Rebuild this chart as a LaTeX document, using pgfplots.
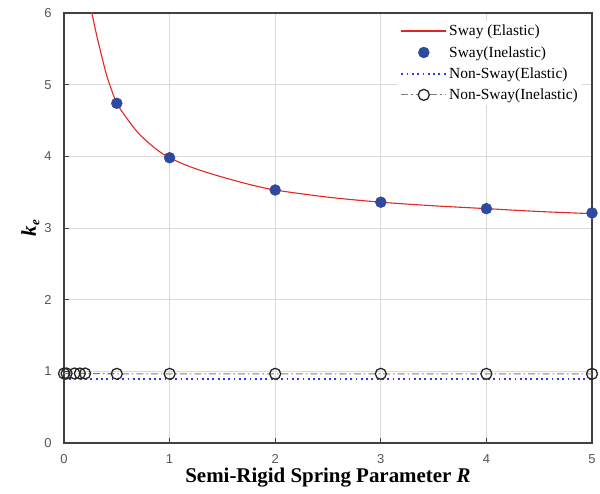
\documentclass[border=0pt]{standalone}
\usepackage{fontspec}
\setmainfont{Liberation Serif}
\setsansfont{Liberation Sans}
\usepackage{pgfplots}
\pgfplotsset{compat=1.18}
\definecolor{swayred}{HTML}{E42525}
\definecolor{swayblue}{HTML}{2E4A9E}
\definecolor{nsblue}{HTML}{2A3CE8}
\definecolor{nsgray}{HTML}{808070}
\definecolor{ticktxt}{HTML}{555555}
\definecolor{axcol}{HTML}{404040}
\begin{document}
\begin{tikzpicture}
\begin{axis}[
  scale only axis,
  width=528bp, height=430bp,
  xmin=0, xmax=5, ymin=0, ymax=6,
  xtick={0,1,2,3,4,5}, ytick={0,1,2,3,4,5,6},
  grid=major,
  major grid style={draw=black!15, line width=0.9pt},
  axis line style={draw=axcol, line width=1.3pt},
  tick style={draw=axcol, line width=0.8pt},
  major tick length=5bp,
  tick align=inside,
  xtick pos=bottom, ytick pos=left,
  /pgf/number format/assume math mode=true,
  tick label style={font=\sffamily\fontsize{13}{14}\selectfont, text=ticktxt},
  xticklabel style={yshift=-8bp},
  yticklabel style={xshift=-9bp},
  xlabel={\textbf{Semi-Rigid Spring Parameter \textit{R}}},
  xlabel style={font=\fontsize{21}{24}\selectfont, yshift=3bp},
  ylabel={\textbf{\textit{k}}\raisebox{-0.35ex}{\fontsize{13}{14}\selectfont\textbf{\textit{e}}}},
  ylabel style={font=\fontsize{21}{24}\selectfont, yshift=-2bp},
  legend style={at={(1,1)}, anchor=north east, xshift=-10bp, yshift=-8bp,
    draw=none, fill=white, font=\fontsize{15.5}{17}\selectfont,
    row sep=5bp, inner sep=2bp, cells={anchor=west}},
  clip=true,
]
\addlegendimage{legend image code/.code={\draw[draw=swayred, line width=1.7pt] (0bp,0bp) -- (45bp,0bp);}}
\addlegendentry{Sway (Elastic)}
\addlegendimage{legend image code/.code={\fill[swayblue] (22.5bp,0bp) circle[radius=5.5bp];}}
\addlegendentry{Sway(Inelastic)}
\addlegendimage{legend image code/.code={\draw[draw=nsblue, line width=1.7pt, dash pattern=on 1.8bp off 3.5bp] (0bp,0bp) -- (45bp,0bp);}}
\addlegendentry{Non-Sway(Elastic)}
\addlegendimage{legend image code/.code={\draw[draw=nsgray, line width=1.1pt, dash pattern=on 7bp off 3bp on 1.5bp off 3bp] (0bp,0bp) -- (45bp,0bp);
  \draw[draw=black!85, fill=white, line width=1.3pt] (22.5bp,0bp) circle[radius=5.5bp];}}
\addlegendentry{Non-Sway(Inelastic)}
\addplot[forget plot, draw=swayred, line width=1.1pt, smooth, tension=0.5] coordinates {
 (0.25,6.1) (0.30,5.75) (0.34,5.50) (0.40,5.15) (0.44,4.97) (0.50,4.74) (0.60,4.52) (0.70,4.33)
 (0.80,4.19) (0.90,4.07) (1.00,3.98) (1.15,3.88) (1.30,3.80) (1.50,3.71) (1.75,3.61) (2.00,3.53) (2.50,3.43)
 (3.00,3.36) (3.50,3.31) (4.00,3.27) (4.50,3.23) (5.00,3.20)};
\addplot[forget plot, only marks, mark=*, mark size=5.5bp, mark options={draw=swayblue, fill=swayblue}] coordinates {
 (0.5,4.74) (1,3.98) (2,3.53) (3,3.36) (4,3.27) (5,3.21)};
\addplot[forget plot, draw=nsblue, line width=1.5pt, dash pattern=on 1.8bp off 3.5bp] coordinates {
 (0,0.89) (0.5,0.89) (1,0.89) (2,0.89) (3,0.89) (4,0.89) (5,0.89)};
\addplot[forget plot, draw=nsgray, line width=1.1pt, dash pattern=on 7bp off 3bp on 1.5bp off 3bp, mark=o, mark size=5.5bp,
  mark options={solid, draw=black!85, fill=white, line width=1.3pt}] coordinates {
 (0,0.97) (0.025,0.97) (0.1,0.97) (0.15,0.97) (0.2,0.97) (0.5,0.965) (1,0.965) (2,0.965) (3,0.965) (4,0.965) (5,0.965)};
\end{axis}
\path ([shift={(-64bp,-51bp)}]current axis.south west) rectangle ([shift={(8bp,13bp)}]current axis.north east);
\end{tikzpicture}
\end{document}
